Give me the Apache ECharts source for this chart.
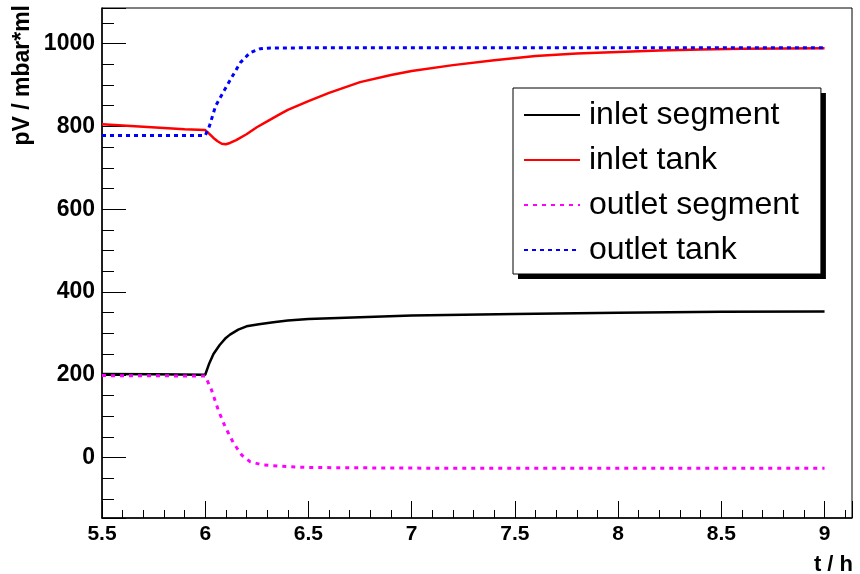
<!DOCTYPE html>
<html>
<head>
<meta charset="utf-8">
<script src="https://cdn.jsdelivr.net/npm/echarts@6/dist/echarts.min.js"></script>
<style>
  html, body { margin: 0; padding: 0; background: #fff; }
  #chart { width: 860px; height: 574px; }
</style>
</head>
<body>
<div id="chart"></div>
<script>
// series names
var seriesNames = ["inlet segment", "inlet tank", "outlet segment", "outlet tank"];

// inlet segment (black)
var tInletSeg = [5.5, 5.75, 6.0, 6.005, 6.02, 6.04, 6.07, 6.1, 6.12, 6.16, 6.2, 6.26, 6.33, 6.4, 6.5, 6.75, 7.0, 7.5, 8.0, 8.5, 9.0];
var vInletSeg = [202, 201, 200, 200, 228, 250, 272, 289, 297, 309, 317, 322, 327, 331, 335, 339, 343, 347, 350, 352, 353];

// inlet tank (red)
var tInletTank = [5.5, 5.6, 5.7, 5.8, 5.9, 6.0, 6.005, 6.02, 6.04, 6.06, 6.08, 6.1, 6.12, 6.15, 6.2, 6.25, 6.3, 6.36, 6.4, 6.5, 6.6, 6.75, 6.9, 7.0, 7.2, 7.4, 7.6, 7.8, 8.0, 8.2, 8.4, 8.6, 8.8, 9.0];
var vInletTank = [805, 802, 799, 796, 793, 791, 791, 782, 772, 764, 758, 757, 760, 767, 781, 798, 812, 829, 840, 861, 881, 907, 924, 934, 948, 960, 970, 976, 980, 983.5, 986, 987.5, 988, 988.5];

// outlet segment (magenta, dotted)
var tOutletSeg = [5.5, 6.0, 6.005, 6.03, 6.063, 6.096, 6.137, 6.177, 6.217, 6.28, 6.41, 6.5, 7.0, 8.0, 9.0];
var vOutletSeg = [198, 197, 197, 164, 115, 75, 35, 6, -10, -18, -22, -24, -25.5, -26, -26];

// outlet tank (blue, dotted)
var tOutletTank = [5.5, 6.0, 6.005, 6.02, 6.05, 6.09, 6.136, 6.17, 6.217, 6.265, 6.3, 6.5, 9.0];
var vOutletTank = [778, 778, 778, 800, 849, 885, 925, 954, 978, 987.5, 989, 990, 990];

function pairs(t, v) {
  return t.map(function (x, i) { return [x, v[i]]; });
}

var labelFont = "Liberation Sans";

var legendBase = {
  orient: "vertical",
  data: seriesNames,
  itemWidth: 56,
  itemHeight: 2,
  itemGap: 9,
  padding: [9, 22, 6, 10],
  selectedMode: false,
  itemStyle: { opacity: 0 }
};

var chart = echarts.init(document.getElementById("chart"));
chart.setOption({
  animation: false,
  backgroundColor: "#fff",
  grid: {
    left: 102,
    right: 8,
    top: 8,
    bottom: 56,
    show: true,
    borderColor: "#000",
    borderWidth: 1,
    backgroundColor: "transparent"
  },
  legend: [
    // shadow box behind the legend
    Object.assign({}, legendBase, {
      left: 518,
      top: 93,
      z: 3,
      backgroundColor: "#000",
      borderWidth: 0,
      lineStyle: { opacity: 0 },
      textStyle: { fontFamily: labelFont, fontSize: 32, lineHeight: 36, color: "rgba(0,0,0,0)", padding: [0, 0, 0, 4] }
    }),
    Object.assign({}, legendBase, {
      left: 513,
      top: 88,
      z: 4,
      backgroundColor: "#fff",
      borderColor: "#000",
      borderWidth: 1,
      textStyle: { fontFamily: labelFont, fontSize: 32, lineHeight: 36, color: "#000", padding: [0, 0, 0, 4] }
    })
  ],
  xAxis: {
    type: "value",
    min: 5.5,
    max: 9.133,
    interval: 0.5,
    axisLine: { show: true, onZero: false, lineStyle: { color: "#000", width: 1.5 } },
    axisTick: { show: true, inside: true, length: 17, lineStyle: { color: "#000", width: 1 } },
    minorTick: { show: true, splitNumber: 5, length: 8, lineStyle: { color: "#000", width: 1 } },
    splitLine: { show: false },
    axisLabel: {
      margin: 6,
      showMaxLabel: false,
      formatter: function (v) { return String(v); },
      fontFamily: labelFont,
      fontWeight: "bold",
      fontSize: 21,
      color: "#000"
    }
  },
  yAxis: {
    type: "value",
    min: -146,
    max: 1086,
    minInterval: 200,
    maxInterval: 200,
    axisLine: { show: true, onZero: false, lineStyle: { color: "#000", width: 1.5 } },
    axisTick: { show: true, inside: true, length: 24, lineStyle: { color: "#000", width: 1 } },
    minorTick: { show: true, splitNumber: 4, length: 12, lineStyle: { color: "#000", width: 1 } },
    splitLine: { show: false },
    axisLabel: {
      margin: 7,
      showMinLabel: false,
      showMaxLabel: false,
      formatter: function (v) { return String(v); },
      fontFamily: labelFont,
      fontWeight: "bold",
      fontSize: 23,
      color: "#000"
    }
  },
  graphic: [
    {
      type: "text",
      x: 23,
      y: 5,
      rotation: Math.PI / 2,
      style: {
        text: "pV / mbar*ml",
        font: "bold 23px " + labelFont,
        fill: "#000",
        textAlign: "right",
        textVerticalAlign: "middle"
      }
    },
    {
      type: "text",
      x: 853,
      y: 565,
      style: {
        text: "t / h",
        font: "bold 22px " + labelFont,
        fill: "#000",
        textAlign: "right",
        textVerticalAlign: "middle"
      }
    }
  ],
  series: [
    {
      name: seriesNames[0],
      type: "line",
      symbol: "none",
      data: pairs(tInletSeg, vInletSeg),
      lineStyle: { color: "#000", width: 2.5 },
      itemStyle: { color: "#000" }
    },
    {
      name: seriesNames[1],
      type: "line",
      symbol: "none",
      data: pairs(tInletTank, vInletTank),
      lineStyle: { color: "#ff0000", width: 2.5 },
      itemStyle: { color: "#ff0000" }
    },
    {
      name: seriesNames[2],
      type: "line",
      symbol: "none",
      data: pairs(tOutletSeg, vOutletSeg),
      lineStyle: { color: "#ff00ff", width: 3, type: [4, 5] },
      itemStyle: { color: "#ff00ff" }
    },
    {
      name: seriesNames[3],
      type: "line",
      symbol: "none",
      data: pairs(tOutletTank, vOutletTank),
      lineStyle: { color: "#0000ff", width: 3, type: [4, 4] },
      itemStyle: { color: "#0000ff" }
    }
  ]
});
</script>
</body>
</html>
